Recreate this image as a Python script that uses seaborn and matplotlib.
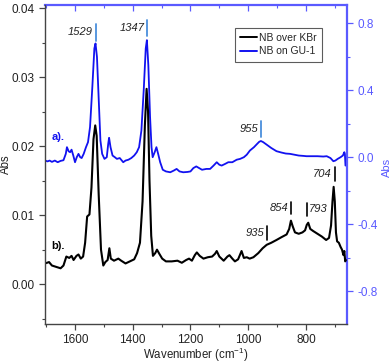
import numpy as np
import pandas as pd
import matplotlib
matplotlib.use("Agg")
import matplotlib.pyplot as plt
from matplotlib.lines import Line2D
from matplotlib.ticker import MultipleLocator
import seaborn as sns

# ---- data ----
kbr_wn = [1704, 1690, 1680, 1665, 1650, 1640, 1630, 1620, 1612, 1605, 1595, 1588, 1580, 1572,
          1565, 1558, 1550, 1543, 1536, 1530, 1525, 1518, 1510, 1502, 1495, 1487, 1481, 1476,
          1465, 1450, 1440, 1425, 1410, 1395, 1385, 1375, 1366, 1358, 1352, 1347, 1342, 1336,
          1330, 1322, 1316, 1308, 1298, 1285, 1265, 1245, 1230, 1215, 1205, 1195, 1185, 1178,
          1168, 1155, 1140, 1125, 1115, 1109, 1100, 1085, 1072, 1065, 1055, 1046, 1035, 1023,
          1015, 1005, 995, 982, 965, 950, 936, 920, 902, 885, 867, 858, 852, 846, 838, 825,
          812, 803, 797, 792, 785, 775, 760, 745, 730, 720, 713, 708, 704, 700, 696, 692, 686,
          680, 675, 670, 667, 664, 662]
kbr_abs = [0.0030, 0.0032, 0.0027, 0.0025, 0.0023, 0.0027, 0.0040, 0.0038, 0.0041, 0.0035,
           0.0041, 0.0043, 0.0037, 0.0040, 0.0060, 0.0098, 0.0101, 0.0140, 0.0210, 0.0230,
           0.0215, 0.0130, 0.0050, 0.0027, 0.0032, 0.0035, 0.0052, 0.0037, 0.0034, 0.0037,
           0.0034, 0.0030, 0.0033, 0.0036, 0.0045, 0.0060, 0.0120, 0.0230, 0.0283, 0.0250,
           0.0150, 0.0070, 0.0041, 0.0045, 0.0050, 0.0044, 0.0037, 0.0033, 0.0033, 0.0034,
           0.0031, 0.0035, 0.0037, 0.0034, 0.0042, 0.0046, 0.0041, 0.0037, 0.0039, 0.0040,
           0.0044, 0.0048, 0.0040, 0.0034, 0.0040, 0.0042, 0.0037, 0.0033, 0.0036, 0.0048,
           0.0038, 0.0039, 0.0037, 0.0039, 0.0045, 0.0052, 0.0057, 0.0060, 0.0064, 0.0068,
           0.0072, 0.0080, 0.0092, 0.0084, 0.0075, 0.0073, 0.0075, 0.0078, 0.0086, 0.0089,
           0.0080, 0.0077, 0.0073, 0.0069, 0.0064, 0.0067, 0.0085, 0.0120, 0.0141, 0.0120,
           0.0075, 0.0062, 0.0060, 0.0054, 0.0050, 0.0042, 0.0048, 0.0033, 0.0035]

gu_wn = [1704, 1695, 1688, 1680, 1670, 1660, 1650, 1640, 1632, 1628, 1622, 1617, 1612, 1606,
         1600, 1594, 1588, 1582, 1577, 1570, 1562, 1555, 1548, 1540, 1533, 1529, 1524, 1518,
         1512, 1506, 1498, 1490, 1485, 1482, 1477, 1470, 1462, 1455, 1445, 1433, 1425, 1415,
         1405, 1395, 1386, 1378, 1370, 1362, 1355, 1351, 1346, 1340, 1335, 1331, 1324, 1318,
         1312, 1305, 1296, 1285, 1270, 1258, 1248, 1238, 1225, 1210, 1200, 1190, 1180, 1170,
         1160, 1145, 1132, 1120, 1109, 1100, 1092, 1080, 1069, 1055, 1040, 1028, 1015, 1005,
         994, 980, 970, 962, 956, 948, 936, 920, 902, 885, 870, 855, 840, 825, 810, 798, 780,
         760, 740, 728, 715, 705, 698, 690, 680, 672, 667, 665, 663]
gu_abs = [-0.020, -0.025, -0.020, -0.028, -0.020, -0.030, -0.022, -0.018, 0.020, 0.060, 0.035,
          0.030, 0.045, 0.010, -0.030, 0.000, 0.020, 0.000, -0.005, 0.020, 0.060, 0.090, 0.180,
          0.420, 0.650, 0.680, 0.600, 0.350, 0.100, 0.020, -0.010, 0.000, 0.080, 0.116, 0.060,
          0.010, 0.000, -0.010, -0.005, -0.030, -0.020, -0.015, -0.005, 0.010, 0.030, 0.060,
          0.160, 0.400, 0.650, 0.700, 0.550, 0.240, 0.060, 0.000, 0.030, 0.060, 0.020, -0.030,
          -0.075, -0.085, -0.090, -0.080, -0.070, -0.085, -0.090, -0.088, -0.085, -0.065,
          -0.055, -0.065, -0.075, -0.070, -0.070, -0.050, -0.030, -0.045, -0.050, -0.040,
          -0.030, -0.030, -0.015, -0.010, 0.000, 0.015, 0.040, 0.060, 0.078, 0.092, 0.097,
          0.090, 0.075, 0.055, 0.036, 0.028, 0.022, 0.020, 0.015, 0.010, 0.008, 0.006, 0.006,
          0.006, 0.004, 0.006, -0.005, -0.024, -0.020, -0.010, 0.000, 0.010, 0.030, 0.020, -0.050]

series_labels = ["NB over KBr", "NB on GU-1"]
blue_peaks = ["1529", "1347", "955"]
blue_peak_pos = [1529, 1350, 956]
black_peaks = ["935", "854", "793", "704"]
black_peak_pos = [936, 852, 798, 701]

# ---- style ----
sns.set_style("ticks")
plt.rcParams["font.family"] = ["Liberation Sans", "DejaVu Sans"]
plt.rcParams["mathtext.fontset"] = "custom"
plt.rcParams["mathtext.rm"] = "Liberation Sans"
plt.rcParams["mathtext.it"] = "Liberation Sans:italic"

BLUE_LINE = "#1212f0"
BLUE_AX = "#5a5aff"
BLUE_MARK = "#4a8fdc"
GREY_AX = "#444444"

fig = plt.figure(figsize=(3.92, 3.63), dpi=100)
ax = fig.add_axes([0.1148, 0.1088, 0.7702, 0.8766])
ax2 = ax.twinx()

df_k = pd.DataFrame({"wn": kbr_wn, "abs": kbr_abs})
df_g = pd.DataFrame({"wn": gu_wn, "abs": gu_abs})

sns.lineplot(data=df_g, x="wn", y="abs", ax=ax2, color=BLUE_LINE, lw=1.3, sort=False)
sns.lineplot(data=df_k, x="wn", y="abs", ax=ax, color="black", lw=1.5, sort=False)

ax.set_zorder(ax2.get_zorder() + 1)
ax.patch.set_visible(False)

ax.set_xlim(1704, 658)
ax.set_ylim(-0.0057, 0.0404)
ax2.set_ylim(-0.994, 0.908)

ax.xaxis.set_major_locator(MultipleLocator(200))
ax.xaxis.set_minor_locator(MultipleLocator(100))
ax.yaxis.set_major_locator(MultipleLocator(0.01))
ax.yaxis.set_minor_locator(MultipleLocator(0.005))
ax2.yaxis.set_major_locator(MultipleLocator(0.4))
ax2.yaxis.set_minor_locator(MultipleLocator(0.2))
ax.yaxis.set_major_formatter(matplotlib.ticker.FormatStrFormatter("%.2f"))
ax2.yaxis.set_major_formatter(matplotlib.ticker.FormatStrFormatter("%.1f"))

ax.tick_params(axis="both", which="major", direction="out", length=4, width=0.9,
               labelsize=8.5, color=GREY_AX, labelcolor="#222222")
ax.tick_params(axis="both", which="minor", direction="out", length=2.5, width=0.8, color=GREY_AX)
ax2.tick_params(axis="y", which="major", direction="out", length=4, width=0.9,
                labelsize=8.5, color=BLUE_AX, labelcolor=BLUE_AX)
ax2.tick_params(axis="y", which="minor", direction="out", length=2.5, width=0.8, color=BLUE_AX)

# top ticks (inward, blue)
sec = ax.secondary_xaxis("top")
sec.xaxis.set_major_locator(MultipleLocator(200))
sec.xaxis.set_minor_locator(MultipleLocator(100))
sec.tick_params(which="major", direction="in", length=4, width=0.9, color=BLUE_AX, labeltop=False)
sec.tick_params(which="minor", direction="in", length=2.5, width=0.8, color=BLUE_AX)
sec.spines["top"].set_color(BLUE_AX)
sec.spines["top"].set_linewidth(1.6)

for s in ["left", "bottom"]:
    ax.spines[s].set_color(GREY_AX)
    ax.spines[s].set_linewidth(1.0)
ax.spines["top"].set_visible(False)
ax.spines["right"].set_visible(False)
ax2.spines["right"].set_color(BLUE_AX)
ax2.spines["right"].set_linewidth(1.6)
ax2.spines["top"].set_visible(False)
ax2.spines["left"].set_visible(False)
ax2.spines["bottom"].set_visible(False)

ax.set_xlabel("Wavenumber (cm$^{-1}$)", fontsize=8.3, color="#222222")
ax.set_ylabel("Abs", fontsize=8.3, color="#222222")
ax2.set_ylabel("Abs", fontsize=8.0, color=BLUE_AX)
ax.xaxis.set_label_coords(0.5, -0.07)
ax.yaxis.set_label_coords(-0.11, 0.5)
ax2.yaxis.set_label_coords(1.117, 0.49)

# peak markers (left-axis data coordinates)
blue_mark_y = [(0.0353, 0.0377), (0.0359, 0.0383), (0.0213, 0.0237)]
for lab, x, (y0, y1) in zip(blue_peaks, blue_peak_pos, blue_mark_y):
    ax.plot([x, x], [y0, y1], color=BLUE_MARK, lw=1.3)
    ax.text(x + 9, (y0 + y1) / 2, lab, ha="right", va="center", fontsize=8,
            style="italic", color="#222222")

black_mark_y = [(0.0064, 0.0084), (0.0101, 0.0119), (0.0099, 0.0118), (0.0149, 0.0170)]
for lab, x, (y0, y1) in zip(black_peaks, black_peak_pos, black_mark_y):
    ax.plot([x, x], [y0, y1], color="black", lw=1.2)
    if lab == "793":
        ax.text(x - 9, (y0 + y1) / 2, lab, ha="left", va="center", fontsize=8,
                style="italic", color="#222222")
    else:
        ax.text(x + 9, (y0 + y1) / 2, lab, ha="right", va="center", fontsize=8,
                style="italic", color="#222222")

ax.text(1682, 0.0213, "a).", color=BLUE_LINE, fontsize=8, fontweight="bold", va="center")
ax.text(1682, 0.0056, "b).", color="black", fontsize=8, fontweight="bold", va="center")

handles = [Line2D([0], [0], color="black", lw=1.4), Line2D([0], [0], color=BLUE_LINE, lw=1.4)]
leg = ax.legend(handles, series_labels, loc="upper left", bbox_to_anchor=(0.629, 0.93),
                fontsize=7.5, frameon=True, fancybox=False, edgecolor="#333333",
                handlelength=1.6, handletextpad=0.2, borderpad=0.5, labelspacing=0.35,
                borderaxespad=0)
leg.get_frame().set_linewidth(0.8)

fig.savefig("out.png", dpi=100)
